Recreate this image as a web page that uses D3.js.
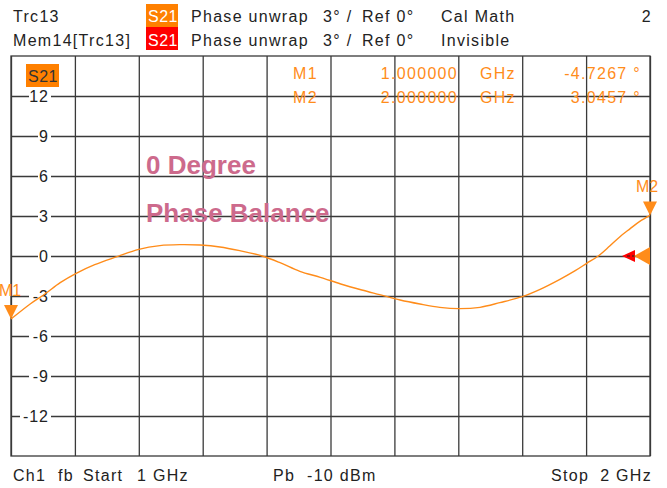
<!DOCTYPE html>
<html>
<head>
<meta charset="utf-8">
<script src="https://cdn.jsdelivr.net/npm/d3@7"></script>
<style>
  body { margin: 0; background: #fff; }
  text { font-family: 'Liberation Sans', Arial, sans-serif; }
</style>
</head>
<body>
<svg id="chart" width="667" height="488"></svg>
<script>
// trace values (GHz, degrees)
const freqs = [1.000, 1.030, 1.053, 1.077, 1.102, 1.131, 1.166, 1.200, 1.233, 1.264,
  1.296, 1.327, 1.358, 1.393, 1.421, 1.452, 1.484, 1.516, 1.549, 1.577,
  1.609, 1.640, 1.671, 1.701, 1.734, 1.765, 1.800, 1.828, 1.859, 1.883,
  1.901, 1.919, 1.937, 1.953, 1.969, 1.984, 2.000]
const phases = [-4.73, -3.6, -2.85, -2.0, -1.3, -0.65, -0.05, 0.5, 0.78, 0.85,
  0.82, 0.68, 0.4, 0.0, -0.5, -1.15, -1.6, -2.1, -2.55, -2.9,
  -3.3, -3.6, -3.85, -3.95, -3.85, -3.5, -3.05, -2.5, -1.75, -1.1,
  -0.55, 0.0, 0.75, 1.45, 2.05, 2.6, 3.05]

const yTicks = [12, 9, 6, 3, 0, -3, -6, -9, -12]
const xTicks = [1.0, 1.1, 1.2, 1.3, 1.4, 1.5, 1.6, 1.7, 1.8, 1.9, 2.0]

const markerNames = ['M1', 'M2']
const markerFreqs = [1.0, 2.0]
const markerValues = [-4.7267, 3.0457]

const orange = '#ff8c1a'
const gridColor = '#3a3a3a'

const plot = { left: 11, right: 650, top: 56, bottom: 456 }

const svg = d3.select('#chart')

const xScale = d3.scaleLinear().domain([1, 2]).range([plot.left, plot.right])
const yScale = d3.scaleLinear().domain([-15, 15]).range([plot.bottom, plot.top])

// plain hyphen minus like the instrument
const fmt = (spec) => v => d3.format(spec)(v).replace('\u2212', '-')

/// grid ////////////////////////////////
const grid = svg.append('g').attr('class', 'grid')

grid.append('g')
  .attr('transform', 'translate(0,' + plot.top + ')')
  .call(d3.axisBottom(xScale).tickValues(xTicks).tickSize(plot.bottom - plot.top).tickFormat(''))
  .call(g => g.select('.domain').remove())
  .call(g => g.selectAll('line').attr('stroke', gridColor).attr('stroke-width', 1.3))

grid.append('g')
  .attr('transform', 'translate(' + plot.left + ',0)')
  .call(d3.axisRight(yScale).tickValues(yTicks).tickSize(plot.right - plot.left).tickFormat(''))
  .call(g => g.select('.domain').remove())
  .call(g => g.selectAll('line').attr('stroke', gridColor).attr('stroke-width', 1.3))

grid.append('rect')
  .attr('x', plot.left).attr('y', plot.top)
  .attr('width', plot.right - plot.left).attr('height', plot.bottom - plot.top)
  .attr('fill', 'none').attr('stroke', gridColor).attr('stroke-width', 1.3)

// y labels with white background
const yLab = svg.append('g').attr('class', 'y-labels')
yTicks.forEach(v => {
  const w = String(v).length * 9 + 4
  yLab.append('rect')
    .attr('x', 51 - w).attr('y', yScale(v) - 7)
    .attr('width', w).attr('height', 14)
    .attr('fill', '#fff')
  yLab.append('text')
    .attr('x', 49).attr('y', yScale(v) + 6)
    .attr('text-anchor', 'end')
    .attr('font-size', 16).attr('letter-spacing', 1)
    .attr('fill', '#222')
    .text(v)
})

/// header ////////////////////////////////
function label(x, y, str, opts = {}) {
  return svg.append('text')
    .attr('x', x).attr('y', y)
    .attr('font-size', opts.size || 16)
    .attr('letter-spacing', opts.ls == null ? 1.3 : opts.ls)
    .attr('fill', opts.fill || '#222')
    .attr('text-anchor', opts.anchor || 'start')
    .attr('font-weight', opts.weight || 'normal')
    .style('white-space', 'pre')
    .text(str)
}

svg.append('rect').attr('x', 146).attr('y', 4).attr('width', 32).attr('height', 23).attr('fill', '#ff8000')
svg.append('rect').attr('x', 146).attr('y', 27).attr('width', 32).attr('height', 23).attr('fill', '#ff0000')

label(13, 22, 'Trc13')
label(13, 46, 'Mem14[Trc13]')
label(148, 22, 'S21', { fill: '#fff', ls: 0.5 })
label(148, 46, 'S21', { fill: '#fff', ls: 0.5 })
label(191, 22, 'Phase unwrap')
label(191, 46, 'Phase unwrap')
label(323, 22, '3° /')
label(323, 46, '3° /')
label(362, 22, 'Ref 0°')
label(362, 46, 'Ref 0°')
label(441, 22, 'Cal Math')
label(441, 46, 'Invisible')
label(652, 22, '2', { anchor: 'end' })

/// footer ////////////////////////////////
label(13, 481, 'Ch1')
label(58, 481, 'fb')
label(83, 481, 'Start')
label(137, 481, '1 GHz')
label(273, 481, 'Pb')
label(307, 481, '-10 dBm')
label(551, 481, 'Stop')
label(652, 481, '2 GHz', { anchor: 'end' })

/// trace label box ////////////////////////////////
svg.append('rect').attr('x', 26).attr('y', 64).attr('width', 33).attr('height', 23).attr('fill', '#ff8000')
label(28, 82, 'S21', { fill: '#333', ls: 0.5 })

/// marker readout ////////////////////////////////
markerNames.forEach((m, i) => {
  const yy = 79 + i * 24
  label(293, yy, m, { fill: orange })
  label(458, yy, fmt('.6f')(markerFreqs[i]), { fill: orange, anchor: 'end' })
  label(480, yy, 'GHz', { fill: orange })
  label(641, yy, fmt('.4f')(markerValues[i]) + ' °', { fill: orange, anchor: 'end' })
})

/// annotation ////////////////////////////////
label(146, 174, '0 Degree', { fill: '#cd6a8c', size: 26, weight: 'bold', ls: 0 })
label(146, 222, 'Phase Balance', { fill: '#cd6a8c', size: 26, weight: 'bold', ls: 0 })

/// trace ////////////////////////////////
const data = freqs.map((f, i) => ({ f: f, v: phases[i] }))

svg.append('path')
  .datum(data)
  .attr('fill', 'none')
  .attr('stroke', orange)
  .attr('stroke-width', 1.4)
  .attr('d', d3.line()
    .x(d => xScale(d.f))
    .y(d => yScale(d.v))
    .curve(d3.curveCatmullRom))

/// reference arrows ////////////////////////////////
const yRef = yScale(0)
svg.append('path')
  .attr('d', `M${plot.right - 28},${yRef} L${plot.right - 15},${yRef - 6} L${plot.right - 15},${yRef + 6} Z`)
  .attr('fill', '#ff0000')
svg.append('line')
  .attr('x1', plot.right - 23).attr('x2', plot.right - 15)
  .attr('y1', yRef).attr('y2', yRef)
  .attr('stroke', '#222').attr('stroke-width', 1).attr('stroke-dasharray', '3,2')
svg.append('path')
  .attr('d', `M${plot.right - 16},${yRef} L${plot.right},${yRef - 9} L${plot.right},${yRef + 9} Z`)
  .attr('fill', orange)

/// markers ////////////////////////////////
markerNames.forEach((m, i) => {
  const mx = xScale(markerFreqs[i])
  const my = yScale(markerValues[i])
  svg.append('path')
    .attr('d', `M${mx},${my} L${mx - 7},${my - 14} L${mx + 7},${my - 14} Z`)
    .attr('fill', orange)
  label(i === 0 ? mx - 1 : mx - 3, my - 23, m, { fill: orange, anchor: 'middle', ls: 0 })
})
</script>
</body>
</html>
